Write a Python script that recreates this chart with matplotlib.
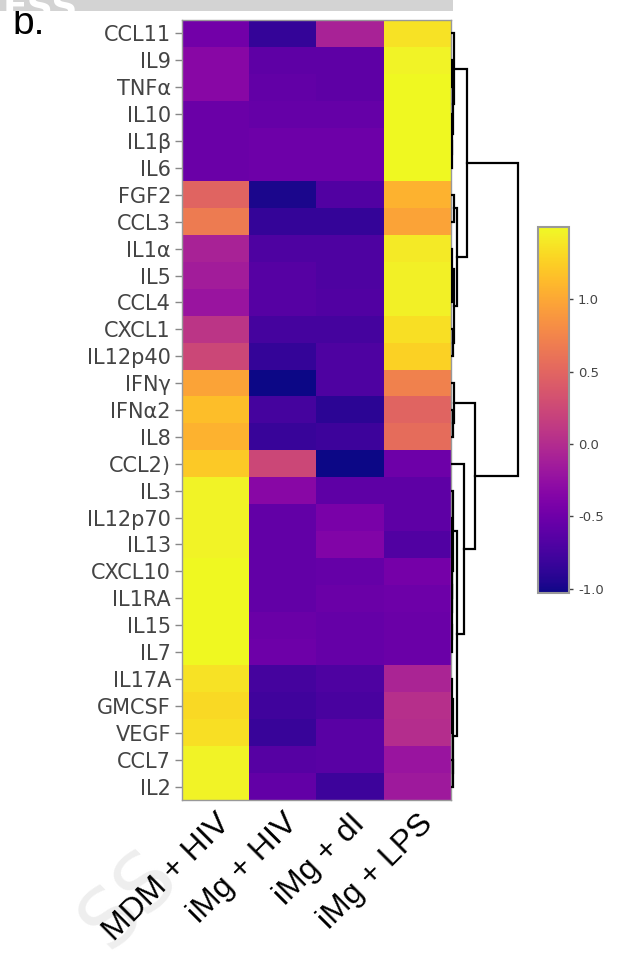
import matplotlib
matplotlib.use("Agg")
import matplotlib.pyplot as plt
import numpy as np

# Cytokine heatmap (z-scored), rows clustered
cytokines = ["CCL11", "IL9", "TNFα", "IL10", "IL1β", "IL6", "FGF2", "CCL3",
             "IL1α", "IL5", "CCL4", "CXCL1", "IL12p40", "IFNγ", "IFNα2", "IL8",
             "CCL2)", "IL3", "IL12p70", "IL13", "CXCL10", "IL1RA", "IL15", "IL7",
             "IL17A", "GMCSF", "VEGF", "CCL7", "IL2"]
conditions = ["MDM + HIV", "iMg + HIV", "iMg + dI", "iMg + LPS"]

mdm_hiv = [-0.47, -0.32, -0.32, -0.52, -0.52, -0.52, 0.49, 0.67, -0.09, -0.14,
           -0.20, 0.08, 0.24, 0.97, 1.15, 1.07, 1.22, 1.47, 1.47, 1.47,
           1.50, 1.50, 1.50, 1.50, 1.37, 1.32, 1.35, 1.47, 1.47]
img_hiv = [-0.85, -0.60, -0.57, -0.55, -0.50, -0.50, -0.98, -0.85, -0.70, -0.65,
           -0.65, -0.75, -0.85, -1.03, -0.75, -0.83, 0.24, -0.32, -0.57, -0.57,
           -0.57, -0.57, -0.52, -0.50, -0.75, -0.78, -0.83, -0.65, -0.57]
img_di = [-0.09, -0.60, -0.60, -0.55, -0.50, -0.50, -0.68, -0.85, -0.70, -0.70,
          -0.68, -0.75, -0.70, -0.70, -0.90, -0.80, -1.03, -0.60, -0.42, -0.37,
          -0.55, -0.52, -0.55, -0.55, -0.70, -0.73, -0.63, -0.63, -0.80]
img_lps = [1.37, 1.47, 1.50, 1.50, 1.50, 1.50, 1.07, 0.97, 1.42, 1.45,
           1.45, 1.35, 1.27, 0.72, 0.49, 0.56, -0.50, -0.60, -0.60, -0.68,
           -0.45, -0.50, -0.52, -0.52, -0.07, 0.03, 0.01, -0.20, -0.17]

cbar_ticks = [-1.0, -0.5, 0.0, 0.5, 1.0]
vmin, vmax = -1.03, 1.5

# row dendrogram: (left, right, merge height); ints are row indices
tree = (
    ((0, ((1, 2, 0.8), (3, (4, 5, 0.5), 1.0), 1.5), 2.5),
     ((6, 7, 2.5), ((8, (9, 10, 0.8), 1.2), (11, 12, 1.5), 2.5), 6),
     16),
    ((13, (14, 15, 1.5), 2.5),
     (16, ((17, ((18, 19, 0.8), ((20, 21, 0.6), (22, 23, 0.6), 1.0), 1.3), 2),
           ((24, (25, 26, 0.8), 1.2), (27, 28, 1.5), 2), 6), 13),
     24),
    67)

W, H = 625, 958
fig = plt.figure(figsize=(W / 100, H / 100), dpi=100)


def fr(x0, y0, x1, y1):
    # pixel box -> figure fraction
    return [x0 / W, 1 - y1 / H, (x1 - x0) / W, (y1 - y0) / H]


# faint watermark, behind everything
fig.text(130 / W, 1 - 900 / H, "SS", fontsize=58, color="#eeeeee",
         rotation=45, ha="center", va="center", zorder=-1)

grid = np.array([mdm_hiv, img_hiv, img_di, img_lps]).T

ax = fig.add_axes(fr(182, 20, 451, 800))
im = ax.imshow(grid, cmap="plasma", vmin=vmin, vmax=vmax, aspect="auto",
               interpolation="nearest")
ax.set_yticks(range(len(cytokines)))
ax.set_yticklabels(cytokines, fontsize=15, color="#444444")
ax.set_xticks(range(len(conditions)))
ax.set_xticklabels(conditions, rotation=45, ha="right", va="top",
                   rotation_mode="anchor", fontsize=23,
                   family="Liberation Sans", color="black")
ax.tick_params(axis="y", length=5, width=1, color="#888888", pad=3)
ax.tick_params(axis="x", length=0, pad=6)
for s in ax.spines.values():
    s.set_color("#999999")
    s.set_linewidth(1)

# dendrogram
dax = fig.add_axes(fr(451, 20, 525, 800))
dax.set_xlim(0, 74)
dax.set_ylim(len(cytokines) - 0.5, -0.5)
dax.axis("off")


def draw(node):
    if isinstance(node, int):
        return node, 0.0
    a, b, h = node
    ya, ha = draw(a)
    yb, hb = draw(b)
    dax.plot([ha, h, h, hb], [ya, ya, yb, yb], color="black", lw=1.6,
             solid_joinstyle="miter")
    return (ya + yb) / 2, h


draw(tree)

# colorbar
cax = fig.add_axes(fr(538, 227, 569, 593))
cb = fig.colorbar(im, cax=cax, ticks=cbar_ticks)
cb.ax.set_yticklabels(["%.1f" % t for t in cbar_ticks])
cb.ax.tick_params(labelsize=9.5, colors="#444444", length=3, width=1)
cb.outline.set_edgecolor("#999999")
cb.outline.set_linewidth(1.5)

# panel label, top cut off by the header band
fig.text(12 / W, 1 - 34 / H, "b.", fontsize=28, family="Liberation Sans",
         color="black", va="baseline")

band = fig.add_axes(fr(0, 0, 453, 11))
band.set_zorder(10)
band.set_facecolor("#d3d3d3")
band.set_xticks([])
band.set_yticks([])
for s in band.spines.values():
    s.set_visible(False)
band.text(0.005, -1.2, "ESS", color="white", fontsize=26, fontweight="bold",
          transform=band.transAxes, clip_on=True, va="bottom")

fig.savefig("out.png", dpi=100)
